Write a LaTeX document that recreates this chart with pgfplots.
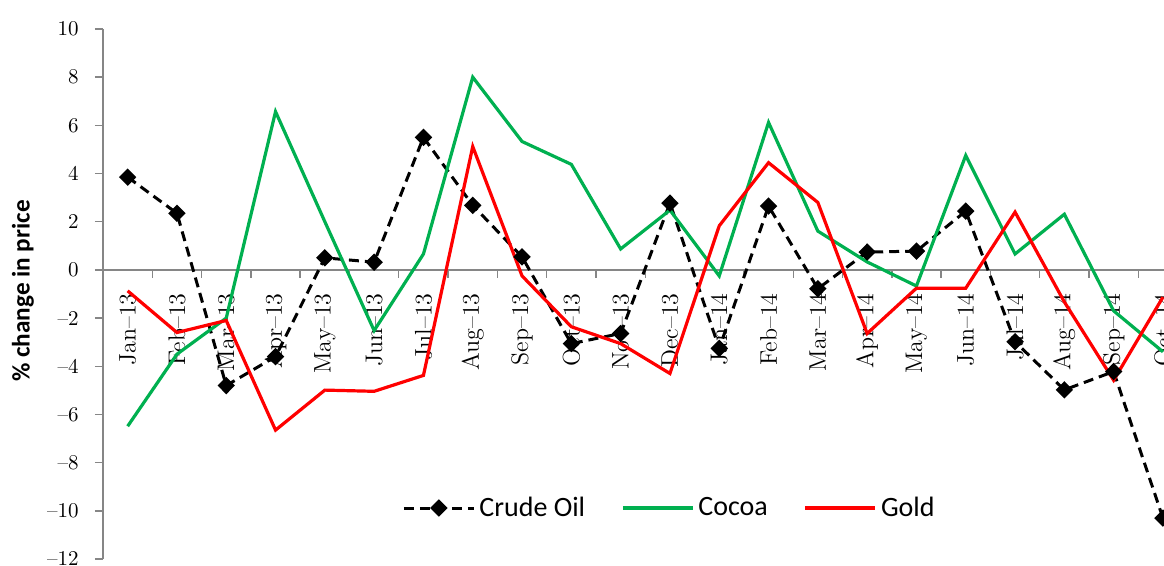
\documentclass[border=0pt]{standalone}
\usepackage{fontspec}
\usepackage{pgfplots}
\pgfplotsset{compat=1.18}
\newfontfamily\carlito{Carlito}
\definecolor{cocoagreen}{RGB}{0,176,80}
\definecolor{goldred}{RGB}{255,0,0}
\definecolor{axisgray}{RGB}{134,134,134}
\newcommand{\mlab}[1]{\fontsize{12}{14}\selectfont #1}

% monthly % change in price, Jan-13 ... Oct-14 (x = 0 ... 21)
\pgfplotstableread{
x  crude   cocoa   gold
0   3.85   -6.49   -0.87
1   2.35   -3.50   -2.60
2  -4.80   -2.00   -2.10
3  -3.60    6.57   -6.65
4   0.50    2.00   -4.99
5   0.32   -2.52   -5.04
6   5.50    0.66   -4.38
7   2.68    8.00    5.12
8   0.54    5.33   -0.25
9  -3.06    4.38   -2.36
10 -2.64    0.87   -3.06
11  2.77    2.48   -4.30
12 -3.26   -0.25    1.83
13  2.65    6.12    4.45
14 -0.78    1.61    2.80
15  0.74    0.33   -2.64
16  0.78   -0.67   -0.76
17  2.44    4.75   -0.76
18 -2.98    0.66    2.40
19 -4.98    2.31   -1.33
20 -4.22   -1.70   -4.58
21 -10.30  -3.40   -1.13
}\prices

\begin{document}
\begin{tikzpicture}
\useasboundingbox (-51.5pt,-3.5pt) rectangle (530.5pt,279.5pt);
\begin{axis}[
  at={(0pt,0pt)}, anchor=south west,
  scale only axis, width=542.3pt, height=265pt,
  xmin=-0.5, xmax=21.5, ymin=-12, ymax=10,
  axis x line=middle, axis y line=left,
  axis line style={axisgray, line width=0.7pt, -},
  hide obscured x ticks=false, hide obscured y ticks=false,
  xtick={0,...,21},
  xticklabels={\mlab{Jan--13},\mlab{Feb--13},\mlab{Mar--13},\mlab{Apr--13},\mlab{May--13},\mlab{Jun--13},\mlab{Jul--13},\mlab{Aug--13},\mlab{Sep--13},\mlab{Oct--13},\mlab{Nov--13},\mlab{Dec--13},\mlab{Jan--14},\mlab{Feb--14},\mlab{Mar--14},\mlab{Apr--14},\mlab{May--14},\mlab{Jun--14},\mlab{Jul--14},\mlab{Aug--14},\mlab{Sep--14},\mlab{Oct--14}},
  minor xtick={0.5,1.5,...,20.5},
  ytick={-12,-10,...,10},
  yticklabels={\textendash12,\textendash10,\textendash8,\textendash6,\textendash4,\textendash2,0,2,4,6,8,10},
  tick align=outside,
  major tick length=4pt, minor tick length=4pt,
  tick style={axisgray, line width=0.7pt},
  major x tick style={draw=none},
  xticklabel style={yshift=-7.5pt, rotate=90, anchor=east, inner sep=0pt},
  yticklabel style={font=\fontsize{10.5}{12}\selectfont, anchor=east, inner sep=1pt, xshift=-7pt},
  ylabel={\% change in price},
  every axis y label/.style={at={(axis description cs:-0.0738,0.5057)}, rotate=90, anchor=center,
    font=\carlito\bfseries\fontsize{12.6}{15}\selectfont},
  legend columns=3,
  legend style={at={(axis description cs:0.2757,0.0962)}, anchor=west, draw=none, fill=none,
    inner sep=0pt, font=\carlito\fontsize{14}{17}\selectfont,
    /tikz/every even column/.append style={column sep=16pt},
    nodes={inner sep=2pt}},
  legend image code/.code={\draw[mark repeat=2,mark phase=2,#1] plot coordinates {(0pt,0pt) (17.5pt,0pt) (35pt,0pt)};},
]
\addplot[black, line width=1.5pt, dash pattern=on 5pt off 3pt, mark=diamond*, mark size=3.3pt, mark options={solid, xscale=1.33}]
  table[x=x, y=crude] {\prices};
\addlegendentry{Crude Oil}
\addplot[cocoagreen, line width=1.6pt] table[x=x, y=cocoa] {\prices};
\addlegendentry{Cocoa}
\addplot[goldred, line width=1.6pt] table[x=x, y=gold] {\prices};
\addlegendentry{Gold}
\end{axis}
\end{tikzpicture}
\end{document}
